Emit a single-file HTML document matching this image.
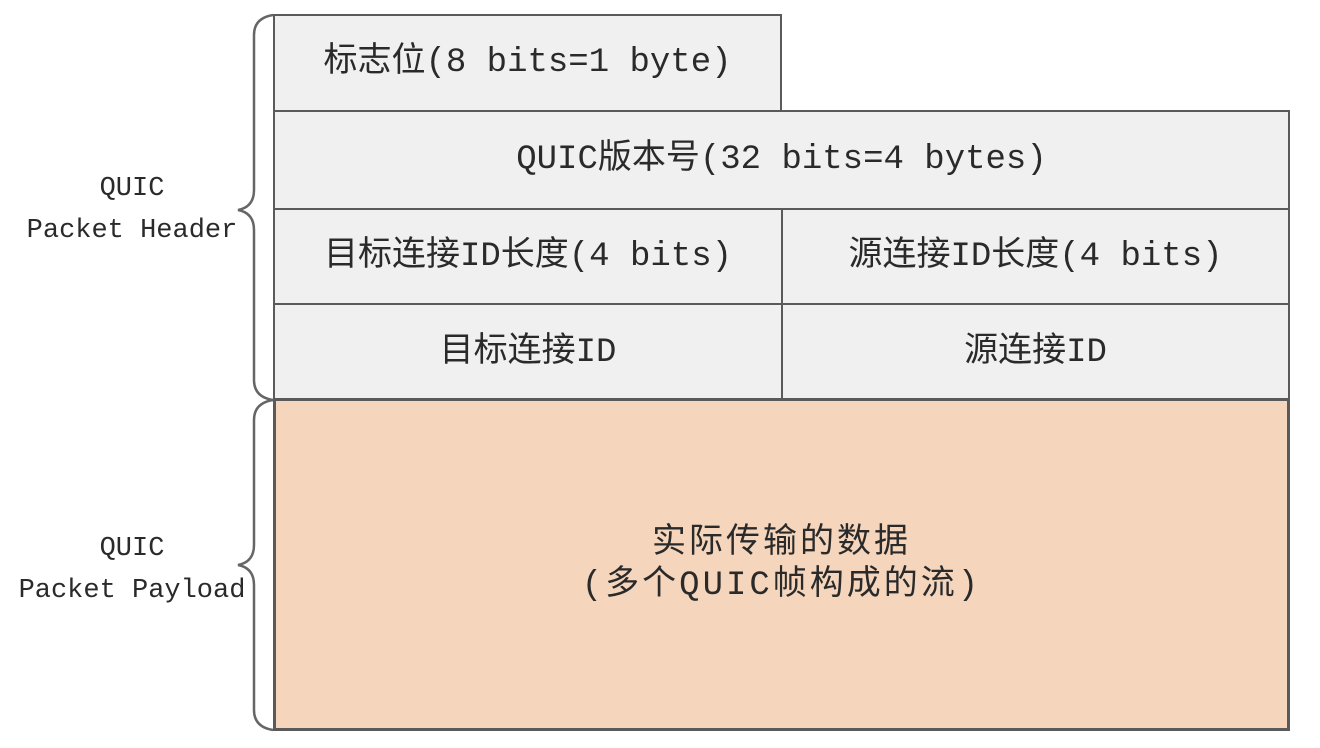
<!DOCTYPE html>
<html><head><meta charset="utf-8"><style>
body{margin:0;width:1320px;height:748px;background:#fff;position:relative;overflow:hidden;font-family:"Liberation Mono","Noto Sans CJK SC",monospace;color:#2a2a2a}
.c{position:absolute;box-sizing:border-box;border:2px solid #5a5a5a;background:#f0f0f0;display:flex;align-items:center;justify-content:center;font-size:34px;text-align:center;line-height:42px}
.l{position:absolute;font-family:"Liberation Mono","Noto Serif CJK SC",monospace;font-size:27px;line-height:42px;text-align:center;width:280px;left:-8px}
</style></head><body>
<div class="c" style="left:273px;top:14px;width:509px;height:98px">标志位(8 bits=1 byte)</div>
<div class="c" style="left:273px;top:110px;width:1017px;height:100px">QUIC版本号(32 bits=4 bytes)</div>
<div class="c" style="left:273px;top:208px;width:510px;height:97px">目标连接ID长度(4 bits)</div>
<div class="c" style="left:781px;top:208px;width:509px;height:97px">源连接ID长度(4 bits)</div>
<div class="c" style="left:273px;top:303px;width:510px;height:99px">目标连接ID</div>
<div class="c" style="left:781px;top:303px;width:509px;height:99px">源连接ID</div>
<div class="c" style="left:273px;top:398px;width:1017px;height:333px;background:#f5d6bc;border-width:3px;letter-spacing:3px">实际传输的数据<br>(多个QUIC帧构成的流)</div>
<div class="l" style="top:168px">QUIC<br>Packet Header</div>
<div class="l" style="top:528px">QUIC<br>Packet Payload</div>
<svg width="1320" height="748" style="position:absolute;left:0;top:0" fill="none" stroke="#666" stroke-width="2.5">
<path d="M273 15 Q254 18 254 35 L254 190 Q254 207 238 210 Q254 213 254 230 L254 380 Q254 397 273 400"/>
<path d="M273 400 Q254 403 254 420 L254 545 Q254 562 238 565 Q254 568 254 585 L254 710 Q254 727 273 730"/>
</svg>
</body></html>
